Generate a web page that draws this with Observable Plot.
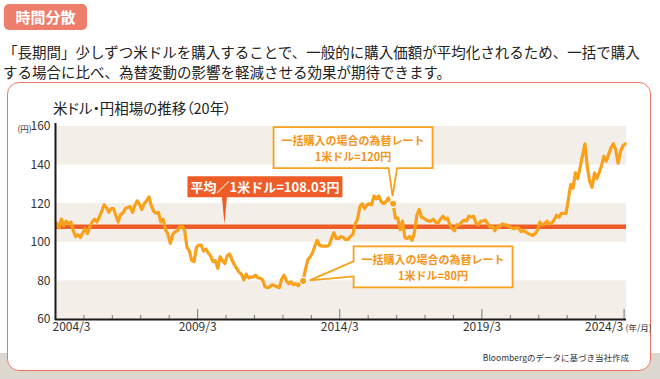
<!DOCTYPE html>
<html><head><meta charset="utf-8">
<script src="https://cdn.jsdelivr.net/npm/d3@7"></script>
<script src="https://cdn.jsdelivr.net/npm/@observablehq/plot@0.6"></script>
<style>
html,body{margin:0;padding:0;}
body{width:660px;height:379px;position:relative;overflow:hidden;background:#fff;font-family:"Noto Sans CJK JP","Noto Sans",sans-serif;color:#222;}
#shade{position:absolute;left:0;top:353px;width:660px;height:26px;background:#dcd7cf;}
#frame{position:absolute;left:7px;top:82px;width:642px;height:287px;border:1.8px solid #f07464;border-radius:12px;background:#fff;}
#badge{position:absolute;left:4px;top:4px;width:83px;height:26px;border-radius:5px;background:#ef7d6c;color:#fff;font-weight:bold;font-size:15px;line-height:26px;text-align:center;}
#desc{position:absolute;left:3px;top:42px;font-size:14.5px;line-height:20px;color:#222;white-space:nowrap;}
#title{position:absolute;left:53px;top:98px;font-size:14.5px;line-height:19px;color:#222;font-feature-settings:"palt";white-space:nowrap;}
#caption{position:absolute;right:31px;top:351px;font-size:8.5px;line-height:12px;color:#333;white-space:nowrap;}
#chart{position:absolute;left:0;top:0;}
</style>
</head><body>
<div id="shade"></div>
<div id="frame"></div>
<div id="badge">時間分散</div>
<div id="desc">「長期間」少しずつ米ドルを購入することで、一般的に購入価額が平均化されるため、一括で購入<br>する場合に比べ、為替変動の影響を軽減させる効果が期待できます。</div>
<div id="title">米ドル・円相場の推移（20年）</div>
<div id="caption">Bloombergのデータに基づき当社作成</div>
<div id="chart"></div>
<script>
// ---- data ----
const firstYear = 2004, firstMonth = 3; // 2004/3
const monthlyRate = [
  // 2004 (Mar-Dec)
  110, 107.5, 112, 108.5, 111, 109.5, 110.5, 106, 103, 104,
  // 2005
  102.5, 105, 107, 104.5, 108, 110.5, 112, 110.5, 113, 116, 119.5, 118,
  // 2006
  115.5, 117.5, 117.5, 114, 110.5, 114.5, 115, 117.5, 118, 118.5, 115.5, 119,
  // 2007
  121.5, 119.5, 117, 120, 121.5, 123.5, 119, 116, 115, 115.5, 110.5, 112,
  // 2008
  106.5, 104, 99.5, 104, 105.5, 106, 108, 108.5, 106, 97.5, 95.5, 90.5,
  // 2009
  90, 97.5, 98.5, 98.5, 95.5, 96.5, 94.5, 93, 90, 90.5, 86.5, 92.5,
  // 2010
  90.5, 89, 93, 94, 91, 88.5, 86.5, 84.5, 83.5, 80.5, 83.5, 81.5,
  // 2011
  82, 82, 83, 81.5, 81.5, 80.5, 77, 76.5, 77, 78, 77.5, 77,
  // 2012
  76.5, 81, 83, 80, 78.5, 79.5, 78, 78.5, 77.5, 79.5, 80, 86,
  // 2013
  91, 92.5, 94.5, 98, 101, 98.5, 98, 98, 98, 98.5, 102, 105,
  // 2014
  102, 102, 103, 102.5, 101.5, 101.5, 103, 104, 109.5, 112, 118.5, 120,
  // 2015
  117.5, 119.5, 120, 119.5, 124, 122.5, 124, 121, 120, 121, 123, 120.5,
  // 2016
  120, 112.5, 112.5, 106.5, 111, 102.5, 102, 103, 101, 105, 114, 117,
  // 2017
  113, 112.5, 111.5, 111, 111, 112, 110.5, 110, 112, 113.5, 112, 112.5,
  // 2018
  109, 107, 106, 109, 109, 110.5, 111.5, 111, 113.5, 113, 113.5, 110,
  // 2019
  109, 111, 111, 111.5, 109.5, 108, 108.5, 106, 108, 108, 109.5, 109,
  // 2020
  109, 108, 107.5, 107, 107.5, 107.5, 105.5, 106, 105.5, 104.5, 104, 103.5,
  // 2021
  104.5, 106.5, 110.5, 109, 109.5, 111, 109.5, 110, 111.5, 114, 113, 115,
  // 2022
  115, 115, 122, 130, 128, 136, 133, 139, 145, 151, 139, 131.5,
  // 2023
  128.5, 136, 133, 136, 139.5, 144.5, 142, 145.5, 149, 151, 148, 141,
  // 2024 (Jan-Mar)
  147, 150, 151
];
const averageRate = 108.03;
const lumpSumMonths = ["2016-01", "2012-11"];
const lumpSumRates = [120, 80];
const lumpSumLine1 = "一括購入の場合の為替レート";
const yTicks = [60, 80, 100, 120, 140, 160];
const bandLows = [60, 100, 140];
const bandHighs = [80, 120, 160];
const majorTickYears = [2004, 2009, 2014, 2019, 2024];
const minorTickYears = [2005,2006,2007,2008,2010,2011,2012,2013,2015,2016,2017,2018,2020,2021,2022,2023];
const xLabelYears = [2009, 2014, 2019];

// ---- build tables ----
const series = monthlyRate.map((v, i) => ({date: new Date(Date.UTC(firstYear, firstMonth - 1 + i, 15)), value: v}));
const lumpPoints = lumpSumMonths.map((m, i) => {
  const [y, mo] = m.split("-").map(Number);
  return {date: new Date(Date.UTC(y, mo - 1, 15)), value: lumpSumRates[i]};
});
const bands = bandLows.map((lo, i) => ({lo, hi: bandHighs[i]}));
const marchDate = y => new Date(Date.UTC(y, 2, 1));
const xDomain = [marchDate(2004), new Date(Date.UTC(2024, 3, 1))];

const orange = "#f9a11b";
const red = "#ee5d28";
const font = '"Noto Sans CJK JP","Noto Sans",sans-serif';

const plot = Plot.plot({
  width: 660, height: 379,
  marginLeft: 55, marginRight: 34, marginTop: 126, marginBottom: 60,
  style: {background: "transparent", fontFamily: font, fontSize: "12px", color: "#333", overflow: "visible"},
  x: {type: "utc", domain: xDomain, axis: null},
  y: {domain: [60, 160], ticks: yTicks, tickSize: 0, tickPadding: 5, label: null},
  marks: [
    Plot.rect(bands, {y1: "lo", y2: "hi", fill: "#f3efe8"}),
    Plot.ruleY([averageRate], {stroke: red, strokeWidth: 4.5}),
    Plot.line(series, {x: "date", y: "value", stroke: orange, strokeWidth: 3.2, strokeLinejoin: "round"}),
    Plot.tickX(minorTickYears.map(marchDate), {x: d => d, stroke: "#777", strokeWidth: 1, insetTop: 189}),
    Plot.tickX(majorTickYears.map(marchDate), {x: d => d, stroke: "#777", strokeWidth: 1, insetTop: 183}),
    Plot.ruleY([60], {stroke: "#1a1a1a", strokeWidth: 2}),
    Plot.ruleX([xDomain[0]], {stroke: "#1a1a1a", strokeWidth: 2, insetTop: -3, insetBottom: -1}),
    Plot.text(xLabelYears.map(marchDate), {x: d => d, text: d => `${d.getUTCFullYear()}/3`, frameAnchor: "bottom", dy: 11, fontSize: 12, fill: "#333"}),
    Plot.text([marchDate(2004)], {x: d => d, text: d => `${d.getUTCFullYear()}/3`, frameAnchor: "bottom", dy: 11, dx: -3, textAnchor: "start", fontSize: 12, fill: "#333"}),
    Plot.text([marchDate(2024)], {x: d => d, text: d => `${d.getUTCFullYear()}/3`, frameAnchor: "bottom", dy: 11, dx: -1, textAnchor: "end", fontSize: 12, fill: "#333"}),
    Plot.text([marchDate(2024)], {x: d => d, text: () => "(年/月)", frameAnchor: "bottom", dy: 11, dx: 1.5, textAnchor: "start", fontSize: 8.5, fill: "#333"}),
    Plot.text(["(円)"], {frameAnchor: "top-left", dx: -31, dy: -1, textAnchor: "middle", fontSize: 8.5, fill: "#333"}),
    Plot.dot(lumpPoints, {x: "date", y: "value", r: 3.6, fill: orange, stroke: "#fff", strokeWidth: 1.2})
  ]
});
document.getElementById("chart").appendChild(plot);

// ---- annotations positioned via the plot's scales ----
const sx = plot.scale("x"), sy = plot.scale("y");
const svg = d3.select(plot);
const g = svg.append("g").attr("font-family", font);

// average label
{
  const ya = sy.apply(averageRate);
  const tx = sx.apply(new Date(Date.UTC(2010, 1, 15)));
  const left = tx - 37, right = tx + 118, top = ya - 50, bottom = ya - 29;
  g.append("path")
    .attr("d", `M${left},${top}H${right}V${bottom}H${tx + 2.5}L${tx},${ya - 2}L${tx - 2.5},${bottom}H${left}Z`)
    .attr("fill", red);
  g.append("text").attr("x", (left + right) / 2).attr("y", (top + bottom) / 2)
    .attr("text-anchor", "middle").attr("dominant-baseline", "central")
    .attr("fill", "#fff").attr("font-weight", "bold").attr("font-size", 13)
    .text(`平均／1米ドル=${averageRate}円`);
}

// lump-sum callout (120)
{
  const p = lumpPoints[0];
  const px = sx.apply(p.date), py = sy.apply(p.value);
  const left = px - 119, right = px + 40, top = py - 76, bottom = py - 35;
  g.append("path")
    .attr("d", `M${left},${top}H${right}V${bottom}H${px + 4.5}L${px},${py - 7}L${px - 4},${bottom}H${left}Z`)
    .attr("fill", "#fff").attr("stroke", orange).attr("stroke-width", 1.8).attr("stroke-linejoin", "miter");
  const cx = (left + right) / 2;
  g.append("text").attr("x", cx).attr("y", top + 13).attr("text-anchor", "middle").attr("dominant-baseline", "central")
    .attr("fill", "#f39419").attr("font-weight", "bold").attr("font-size", 11).text(lumpSumLine1);
  g.append("text").attr("x", cx).attr("y", top + 29).attr("text-anchor", "middle").attr("dominant-baseline", "central")
    .attr("fill", "#f39419").attr("font-weight", "bold").attr("font-size", 11).text(`1米ドル=${p.value}円`);
}

// lump-sum callout (80)
{
  const p = lumpPoints[1];
  const px = sx.apply(p.date), py = sy.apply(p.value);
  const left = px + 51, right = px + 210, top = py - 34, bottom = py + 7;
  g.append("path")
    .attr("d", `M${left},${top}H${right}V${bottom}H${left}V${py - 4}L${px + 7},${py}L${left},${py - 19}Z`)
    .attr("fill", "#fff").attr("stroke", orange).attr("stroke-width", 1.8).attr("stroke-linejoin", "miter");
  const cx = (left + right) / 2;
  g.append("text").attr("x", cx).attr("y", top + 12.5).attr("text-anchor", "middle").attr("dominant-baseline", "central")
    .attr("fill", "#f39419").attr("font-weight", "bold").attr("font-size", 11).text(lumpSumLine1);
  g.append("text").attr("x", cx).attr("y", top + 28.5).attr("text-anchor", "middle").attr("dominant-baseline", "central")
    .attr("fill", "#f39419").attr("font-weight", "bold").attr("font-size", 11).text(`1米ドル=${p.value}円`);
}
</script>
</body></html>
